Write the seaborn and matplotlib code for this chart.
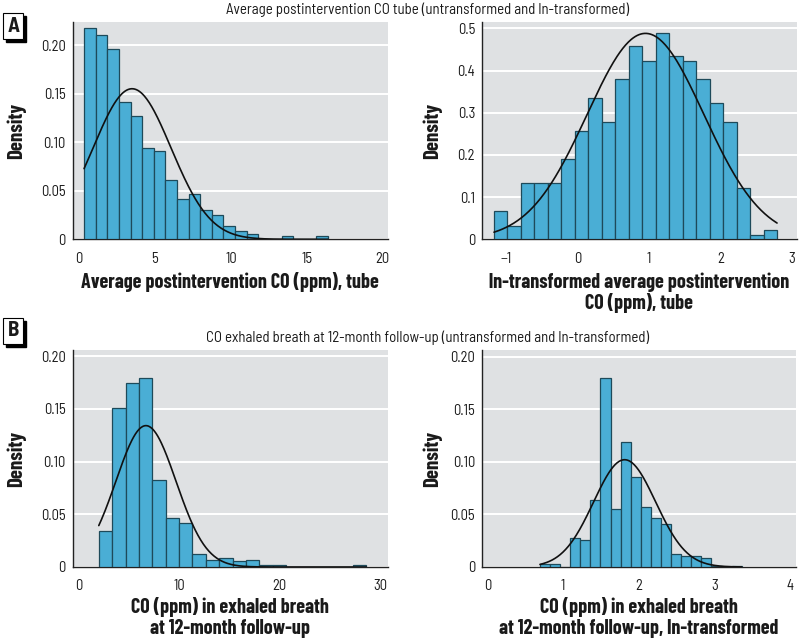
import numpy as np
import pandas as pd
import matplotlib
matplotlib.use("Agg")
import matplotlib.pyplot as plt
from matplotlib.patches import Rectangle
import seaborn as sns

# ---------------- data ----------------
# Panel A, left: untransformed average postintervention CO, tube
a1_bin_start = 0.33
a1_bin_width = 0.765
a1_density = [0.218, 0.210, 0.196, 0.141, 0.127, 0.094, 0.091, 0.061, 0.0415, 0.047,
              0.0305, 0.0247, 0.014, 0.0089, 0.0058, 0.0, 0.0, 0.003, 0.0, 0.0, 0.003]
a1_norm = dict(mean=3.49, sd=2.57, peak=0.155)

# Panel A, right: ln-transformed
a2_bin_start = -1.168
a2_bin_width = 0.1887
a2_density = [0.067, 0.032, 0.133, 0.133, 0.133, 0.190, 0.256, 0.334, 0.278, 0.379,
              0.457, 0.423, 0.490, 0.434, 0.423, 0.379, 0.322, 0.278, 0.122, 0.011, 0.022]
a2_norm = dict(mean=0.953, sd=0.8175, peak=0.488)

# Panel B, left: exhaled breath CO at 12-month follow-up
b1_bin_start = 1.97
b1_bin_width = 1.333
b1_density = [0.0341, 0.151, 0.174, 0.179, 0.0825, 0.0464, 0.0414, 0.012, 0.0066, 0.0085,
              0.0054, 0.0070, 0.0016, 0.0016, 0.0, 0.0, 0.0, 0.0, 0.0, 0.0016]
b1_norm = dict(mean=6.67, sd=3.0, peak=0.134)

# Panel B, right: ln-transformed
b2_bin_start = 0.696
b2_bin_width = 0.1333
b2_density = [0.0025, 0.003, 0.0, 0.0276, 0.0257, 0.0634, 0.180, 0.0548, 0.1185, 0.0859,
              0.0567, 0.0463, 0.0409, 0.012, 0.0101, 0.0101, 0.0082, 0.001, 0.0, 0.0013]
b2_norm = dict(mean=1.815, sd=0.41, peak=0.102)

titles = ["Average postintervention CO tube (untransformed and ln-transformed)",
          "CO exhaled breath at 12-month follow-up (untransformed and ln-transformed)"]
xlabels = ["Average postintervention CO (ppm), tube",
           "ln-transformed average postintervention\nCO (ppm), tube",
           "CO (ppm) in exhaled breath\nat 12-month follow-up",
           "CO (ppm) in exhaled breath\nat 12-month follow-up, ln-transformed"]
xticks = [[0, 5, 10, 15, 20], [-1, 0, 1, 2, 3], [0, 10, 20, 30], [0, 1, 2, 3, 4]]
xticklabels = [["0", "5", "10", "15", "20"], ["\u22121", "0", "1", "2", "3"],
               ["0", "10", "20", "30"], ["0", "1", "2", "3", "4"]]
yticks = [[0, 0.05, 0.10, 0.15, 0.20], [0, 0.1, 0.2, 0.3, 0.4, 0.5],
          [0, 0.05, 0.10, 0.15, 0.20], [0, 0.05, 0.10, 0.15, 0.20]]
yticklabels = [["0", "0.05", "0.10", "0.15", "0.20"], ["0", "0.1", "0.2", "0.3", "0.4", "0.5"],
               ["0", "0.05", "0.10", "0.15", "0.20"], ["0", "0.05", "0.10", "0.15", "0.20"]]
xlims = [(-0.42, 20.35), (-1.336, 3.07), (-0.63, 30.8), (-0.07, 4.08)]
ylims = [(0, 0.2237), (0, 0.515), (0, 0.2057), (0, 0.2063)]

panels = [(a1_bin_start, a1_bin_width, a1_density, a1_norm),
          (a2_bin_start, a2_bin_width, a2_density, a2_norm),
          (b1_bin_start, b1_bin_width, b1_density, b1_norm),
          (b2_bin_start, b2_bin_width, b2_density, b2_norm)]

# ---------------- style ----------------
sns.set_style("white")
plt.rcParams['font.family'] = ['Barlow Semi Condensed', 'DejaVu Sans']
plt.rcParams['axes.unicode_minus'] = True
BOLD_FAMILY = ['Barlow Condensed', 'DejaVu Sans']
BAR = "#4aaed5"
EDGE = "#1e4a5a"
BG = "#dfe1e3"
TXT = "#1a1a1a"

fig = plt.figure(figsize=(8, 6.38), dpi=100)
W, H = 800, 638

def fig_rect(left, top, right, bottom):
    return [left / W, 1 - bottom / H, (right - left) / W, (bottom - top) / H]

rects = [fig_rect(72.7, 22, 388, 239.3), fig_rect(482, 22, 796.7, 239.3),
         fig_rect(72.7, 350, 388, 567), fig_rect(482, 350, 796, 567)]
xlabel_y = [282, 282, 607, 607]          # pixel y of first x-label line
ylabel_x = [26, 442, 26, 442]            # pixel x of right edge of "Density"

for i, (start, width, dens, nrm) in enumerate(panels):
    ax = fig.add_axes(rects[i])
    ax.set_facecolor(BG)
    n = len(dens)
    edges = [start + width * k for k in range(n + 1)]
    centers = [(edges[k] + edges[k + 1]) / 2 for k in range(n)]
    df = pd.DataFrame({"x": centers, "w": dens})
    sns.histplot(data=df, x="x", weights="w", bins=edges, stat="count",
                 color=BAR, alpha=1, edgecolor=EDGE, linewidth=0.9, ax=ax, zorder=3)
    xs = np.linspace(edges[0], edges[-1], 300)
    ys = nrm["peak"] * np.exp(-0.5 * ((xs - nrm["mean"]) / nrm["sd"]) ** 2)
    sns.lineplot(x=xs, y=ys, color="#111111", linewidth=1.2, ax=ax, zorder=4)

    ax.set_xlim(*xlims[i])
    ax.set_ylim(*ylims[i])
    ax.set_xticks(xticks[i])
    ax.set_xticklabels(xticklabels[i])
    ax.set_yticks(yticks[i])
    ax.set_yticklabels(yticklabels[i])
    ax.yaxis.grid(True, color="white", linewidth=1.4, zorder=0)
    ax.xaxis.grid(False)
    ax.set_axisbelow(True)
    for s in ["top", "right"]:
        ax.spines[s].set_visible(False)
    for s in ["left", "bottom"]:
        ax.spines[s].set_color("#222222")
        ax.spines[s].set_linewidth(1.0)
    ax.tick_params(axis="x", direction="out", length=5, width=0.8, color="#444444",
                   labelsize=10.5, pad=4, labelcolor=TXT)
    ax.tick_params(axis="y", direction="out", length=0, labelsize=10.5, pad=5,
                   labelcolor=TXT)
    ax.set_xlabel("")
    ax.set_ylabel("Density", fontsize=15, fontweight="bold", color=TXT,
                  family=BOLD_FAMILY)
    l, t, w, h = rects[i]
    ax.yaxis.set_label_coords((ylabel_x[i] / W - l) / w, 0.5)
    for j, line in enumerate(xlabels[i].split("\n")):
        fig.text(l + w / 2, 1 - (xlabel_y[i] + 21 * j) / H, line, ha="center",
                 va="center", fontsize=14.5, fontweight="bold", color=TXT,
                 family=BOLD_FAMILY)

fig.text(428 / W, 1 - 10 / H, titles[0], ha="center", va="center", fontsize=10.7, color=TXT)
fig.text(428 / W, 1 - 338 / H, titles[1], ha="center", va="center", fontsize=10.7, color=TXT)

# panel letter boxes with shadow
for letter, top in [("A", 13.3), ("B", 318)]:
    l, r, b = 3.3, 23.3, top + 26
    fig.patches.append(Rectangle(((l + 2.5) / W, 1 - (b + 2.5) / H), (r - l) / W, (b - top) / H,
                                 transform=fig.transFigure, facecolor="black",
                                 edgecolor="black", zorder=5))
    fig.patches.append(Rectangle((l / W, 1 - b / H), (r - l) / W, (b - top) / H,
                                 transform=fig.transFigure, facecolor="white",
                                 edgecolor="black", linewidth=0.8, zorder=6))
    fig.text((l + r) / 2 / W, 1 - (top + b) / 2 / H, letter, ha="center", va="center",
             fontsize=15, fontweight="bold", zorder=7, color=TXT)

fig.savefig("out.png", dpi=100)
